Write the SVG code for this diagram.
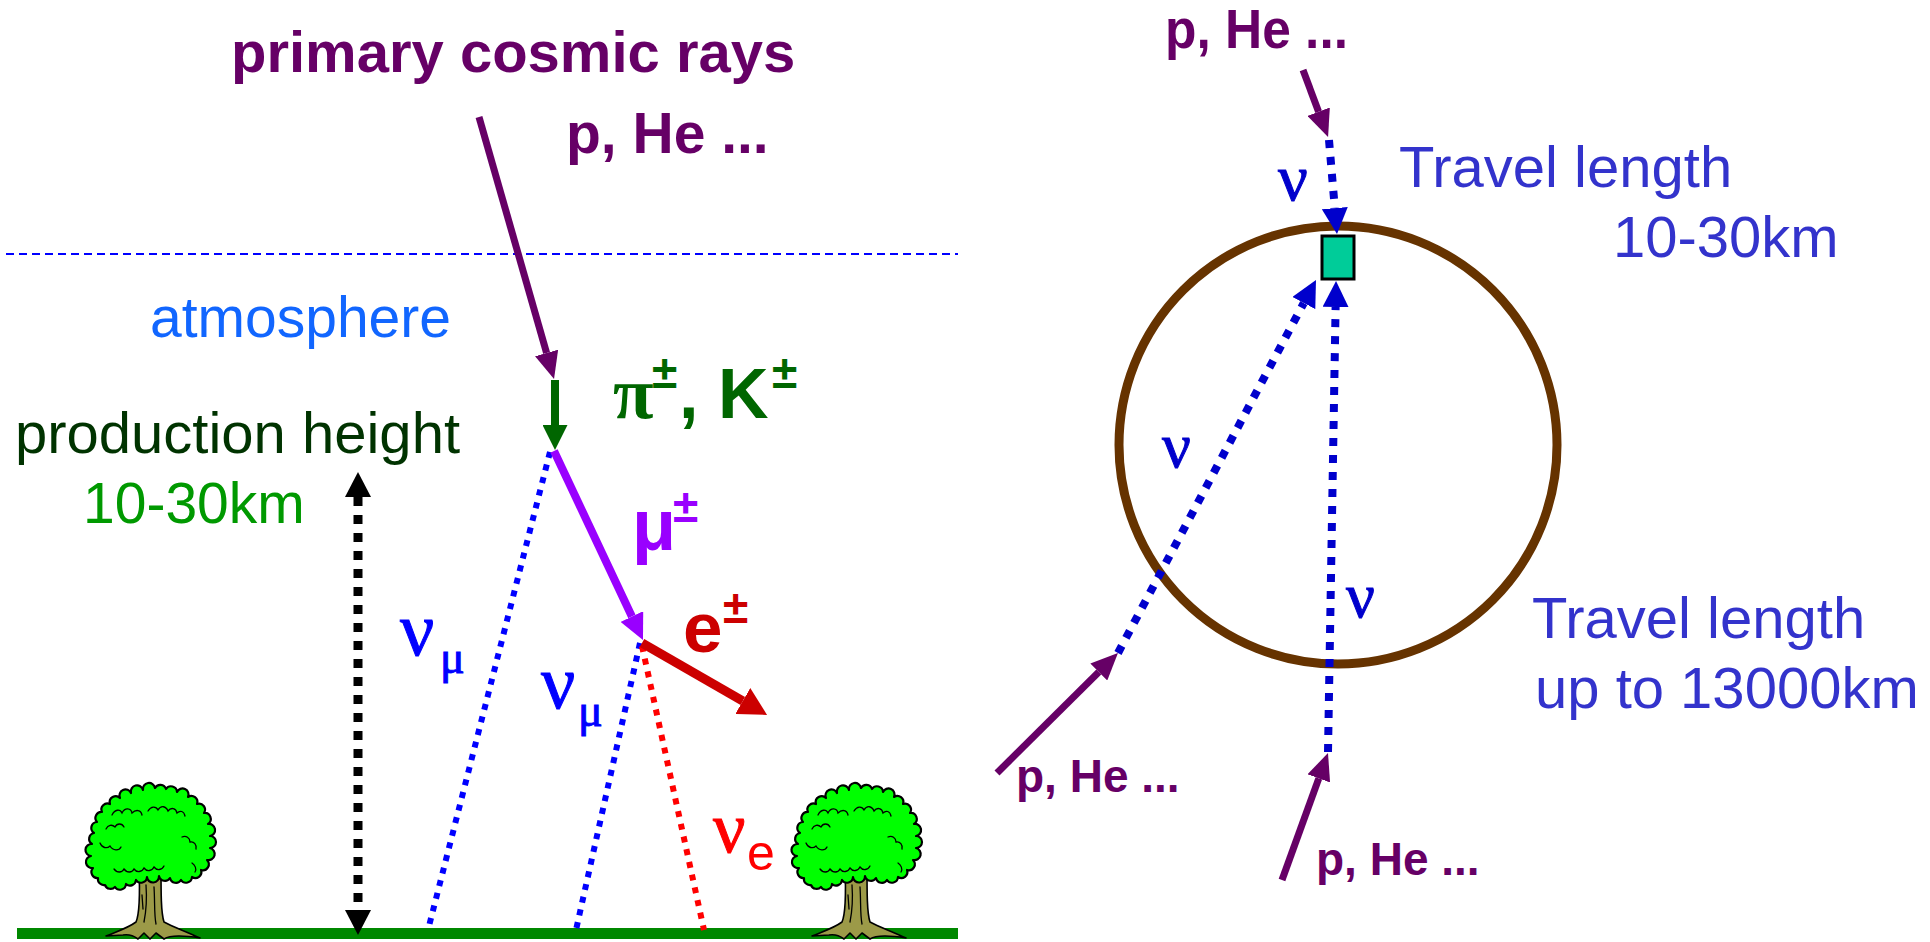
<svg xmlns="http://www.w3.org/2000/svg" width="1930" height="942" viewBox="0 0 1930 942">
  <style>
    .sans { font-family: "Liberation Sans", Arial, sans-serif; }
    .bold { font-family: "Liberation Sans", Arial, sans-serif; font-weight: bold; }
    .greek { font-family: "Liberation Serif", "Times New Roman", serif; }
    .purple { fill: #660066; }
    .travel { fill: #3333cc; font-size: 58px; }
    .sup { font-size: 46px; }
    .nuB { fill: #0000ff; stroke: #0000ff; stroke-width: 1; }
    .nuR { fill: #ff0000; stroke: #ff0000; stroke-width: 1; }
    .nuD { fill: #0000cc; stroke: #0000cc; stroke-width: 1; }
    .dotL { fill: none; stroke-width: 6; stroke-dasharray: 6 7; }
    .dashR { fill: none; stroke: #0000cc; stroke-width: 8; stroke-dasharray: 8 9; }
    .ink { fill: none; stroke: #000; stroke-width: 1.3; stroke-linecap: round; }
  </style>
  <defs>
    <marker id="hPurple" markerUnits="userSpaceOnUse" markerWidth="27" markerHeight="24" refX="0" refY="12" orient="auto">
      <path d="M0,0 L27,12 L0,24 Z" fill="#660066"/>
    </marker>
    <marker id="hGreen" markerUnits="userSpaceOnUse" markerWidth="25" markerHeight="25" refX="0" refY="12.5" orient="auto">
      <path d="M0,0 L25,12.5 L0,25 Z" fill="#006600"/>
    </marker>
    <marker id="hViolet" markerUnits="userSpaceOnUse" markerWidth="26" markerHeight="25" refX="0" refY="12.5" orient="auto">
      <path d="M0,0 L26,12.5 L0,25 Z" fill="#9900ff"/>
    </marker>
    <marker id="hRed" markerUnits="userSpaceOnUse" markerWidth="28" markerHeight="30" refX="0" refY="15" orient="auto">
      <path d="M0,0 L28,15 L0,30 Z" fill="#cc0000"/>
    </marker>
    <marker id="hBlue" markerUnits="userSpaceOnUse" markerWidth="26" markerHeight="26" refX="0" refY="13" orient="auto">
      <path d="M0,0 L26,13 L0,26 Z" fill="#0000cc"/>
    </marker>
    <marker id="hBlack" markerUnits="userSpaceOnUse" markerWidth="25" markerHeight="26" refX="0" refY="13" orient="auto-start-reverse">
      <path d="M0,0 L25,13 L0,26 Z" fill="#000"/>
    </marker>

    <!-- tree: origin at the foot of the trunk, on the ground line -->
    <g id="tree">
      <path d="M-11,-62 C-10,-36 -10,-16 -14,-7 C-22,-1 -32,2 -44,7 L-27,6 C-21,5 -16,7 -12,10 L-6,4 L0,10 L6,4 L14,10 C20,6 31,6 50,9 C35,2 23,-2 14,-7 C11,-16 11,-36 11,-62 Z"
            fill="#9c9a48" stroke="#000" stroke-width="1.6" stroke-linejoin="round"/>
      <path class="ink" d="M-4,-44 C-3,-30 -4,-17 -6,-7 M4,-42 C5,-28 4,-15 6,-5 M-8,-34 L-7,-20"/>
      <path d="M5,-141 A6,6 0 0 1 16,-140 A6,6 0 0 1 27,-137 A6,6 0 0 1 38,-132 A6,6 0 0 1 47,-125 A6,6 0 0 1 54,-116 A6,6 0 0 1 58,-105 A6,6 0 0 1 60,-93 A6,6 0 0 1 60,-81 A6,6 0 0 1 57,-69 A6,6 0 0 1 51,-59 A6,6 0 0 1 42,-52 A6,6 0 0 1 31,-49 A6,6 0 0 1 20,-51 A6,6 0 0 1 9,-53 A6,6 0 0 1 -3,-52 A6,6 0 0 1 -14,-49 A6,6 0 0 1 -24,-45 A6,6 0 0 1 -35,-42 A6,6 0 0 1 -45,-44 A6,6 0 0 1 -52,-51 A6,6 0 0 1 -57,-61 A6,6 0 0 1 -59,-73 A6,6 0 0 1 -58,-85 A6,6 0 0 1 -56,-96 A6,6 0 0 1 -53,-107 A6,6 0 0 1 -48,-117 A6,6 0 0 1 -40,-125 A6,6 0 0 1 -30,-131 A6,6 0 0 1 -19,-136 A6,6 0 0 1 -7,-139 A6,6 0 0 1 5,-141 Z"
            fill="#00ff00" stroke="#000" stroke-width="2.2" stroke-linejoin="round"/>
      <path class="ink" d="M-38,-114 c3,-6 8,-6 10,-2 c3,-6 9,-5 10,0 c4,-4 9,-3 10,2"/>
      <path class="ink" d="M-2,-118 c3,-5 8,-5 10,-1 c3,-5 8,-4 10,1 c3,-4 8,-3 9,2 c3,-3 7,-2 8,3"/>
      <path class="ink" d="M-50,-86 c2,5 7,6 10,3 c3,5 9,5 11,1"/>
      <path class="ink" d="M-36,-60 c3,4 8,4 10,0 c3,4 8,4 10,0 c3,4 8,3 10,-1 c3,4 8,3 10,-1 c3,4 8,3 10,-1"/>
      <path class="ink" d="M32,-92 c4,-2 8,1 8,5 c4,-1 7,3 6,7"/>
      <path class="ink" d="M-44,-100 c2,-4 6,-5 9,-2 c2,-4 7,-4 9,0"/>
      <path class="ink" d="M42,-66 c3,2 5,6 3,9"/>
    </g>
  </defs>

  <rect width="1930" height="942" fill="#ffffff"/>

  <!-- ground and trees -->
  <g id="ground">
    <rect x="17" y="928" width="941" height="11" fill="#008800"/>
  </g>
  <g id="tree-left">
    <use href="#tree" x="150" y="929"/>
  </g>
  <g id="tree-right">
    <use href="#tree" x="856" y="929"/>
  </g>

  <!-- top of the atmosphere -->
  <g id="atmosphere-boundary">
    <line x1="6" y1="254" x2="958" y2="254" stroke="#0000ff" stroke-width="2" stroke-dasharray="8 5"/>
  </g>

  <!-- earth -->
  <g id="earth">
    <circle cx="1338" cy="445" r="219" fill="none" stroke="#663300" stroke-width="9"/>
  </g>

  <g id="connectors">
    <!-- shower in the atmosphere -->
    <line x1="479" y1="117" x2="546.6" y2="353" stroke="#660066" stroke-width="7" marker-end="url(#hPurple)"/>
    <line x1="555" y1="380" x2="555" y2="425" stroke="#006600" stroke-width="8" marker-end="url(#hGreen)"/>
    <line x1="550" y1="452" x2="428" y2="930" class="dotL" stroke="#0000ff"/>
    <line x1="554" y1="451" x2="631.9" y2="616.5" stroke="#9900ff" stroke-width="8" marker-end="url(#hViolet)"/>
    <line x1="640" y1="643" x2="576" y2="930" class="dotL" stroke="#0000ff"/>
    <line x1="642" y1="646" x2="704" y2="930" class="dotL" stroke="#ff0000"/>
    <line x1="642" y1="643" x2="742.8" y2="701" stroke="#cc0000" stroke-width="9" marker-end="url(#hRed)"/>
    <line x1="358" y1="497" x2="358" y2="910" stroke="#000" stroke-width="9" stroke-dasharray="9 9" marker-start="url(#hBlack)" marker-end="url(#hBlack)"/>

    <!-- paths to the detector -->
    <line x1="1303" y1="70" x2="1318.6" y2="111.7" stroke="#660066" stroke-width="7" marker-end="url(#hPurple)"/>
    <line x1="1329" y1="140" x2="1334.8" y2="208.1" class="dashR" marker-end="url(#hBlue)"/>
    <line x1="997" y1="773" x2="1098.8" y2="672" stroke="#660066" stroke-width="7" marker-end="url(#hPurple)"/>
    <line x1="1118" y1="653" x2="1303.8" y2="303" class="dashR" marker-end="url(#hBlue)"/>
    <line x1="1282" y1="880" x2="1318.8" y2="778.4" stroke="#660066" stroke-width="7" marker-end="url(#hPurple)"/>
    <line x1="1328" y1="752" x2="1335.6" y2="307" class="dashR" marker-end="url(#hBlue)"/>
  </g>

  <g id="detector">
    <rect x="1322" y="236" width="32" height="43" fill="#00cc99" stroke="#000" stroke-width="3"/>
  </g>

  <!-- labels, left panel -->
  <g id="label-primary">
    <text class="bold purple" x="231" y="72" font-size="58">primary cosmic rays</text>
  </g>
  <g id="label-primary-species">
    <text class="bold purple" x="566" y="153" font-size="57">p, He ...</text>
  </g>
  <g id="label-atmosphere">
    <text class="sans" x="150" y="337" font-size="57" fill="#1166ff">atmosphere</text>
  </g>
  <g id="label-meson">
    <text class="bold" fill="#006600" font-size="70">
      <tspan class="greek" x="613" y="418" font-size="74">π</tspan><tspan class="sup" x="652" y="388">±</tspan><tspan x="679" y="418">, K</tspan><tspan class="sup" x="772" y="388">±</tspan>
    </text>
  </g>
  <g id="label-production-height">
    <text class="sans" x="15" y="453" font-size="58" fill="#003300">production height</text>
    <text class="sans" x="83" y="523" font-size="57" fill="#009900">10-30km</text>
  </g>
  <g id="label-muon">
    <text class="bold" fill="#9900ff" font-size="72"><tspan x="632" y="550">μ</tspan><tspan class="sup" x="673" y="522">±</tspan></text>
  </g>
  <g id="label-electron">
    <text class="bold" fill="#cc0000" font-size="71"><tspan x="683" y="652">e</tspan><tspan class="sup" x="723" y="623">±</tspan></text>
  </g>
  <g id="label-numu-1">
    <text class="greek nuB"><tspan x="400" y="655" font-size="76">ν</tspan><tspan x="440" y="673" font-size="46">μ</tspan></text>
  </g>
  <g id="label-numu-2">
    <text class="greek nuB"><tspan x="541" y="708" font-size="76">ν</tspan><tspan x="578" y="726" font-size="46">μ</tspan></text>
  </g>
  <g id="label-nue">
    <text fill="#ff0000"><tspan class="greek nuR" x="713" y="852" font-size="72">ν</tspan><tspan class="sans" x="747" y="870" font-size="50">e</tspan></text>
  </g>

  <!-- labels, right panel -->
  <g id="label-top-species">
    <text class="bold purple" x="1165" y="48" font-size="56" textLength="183" lengthAdjust="spacingAndGlyphs">p, He ...</text>
  </g>
  <g id="label-nu-top">
    <text class="greek nuD" x="1278" y="200" font-size="66">ν</text>
  </g>
  <g id="label-travel-short">
    <text class="sans travel" x="1399" y="187">Travel length</text>
    <text class="sans travel" x="1613" y="257">10-30km</text>
  </g>
  <g id="label-nu-diagonal">
    <text class="greek nuD" x="1162" y="467" font-size="64">ν</text>
  </g>
  <g id="label-nu-vertical">
    <text class="greek nuD" x="1346" y="617" font-size="64">ν</text>
  </g>
  <g id="label-travel-long">
    <text class="sans travel" x="1532" y="638">Travel length</text>
    <text class="sans travel" x="1535" y="708">up to 13000km</text>
  </g>
  <g id="label-side-species">
    <text class="bold purple" x="1016" y="792" font-size="46">p, He ...</text>
  </g>
  <g id="label-bottom-species">
    <text class="bold purple" x="1316" y="875" font-size="46">p, He ...</text>
  </g>
</svg>
